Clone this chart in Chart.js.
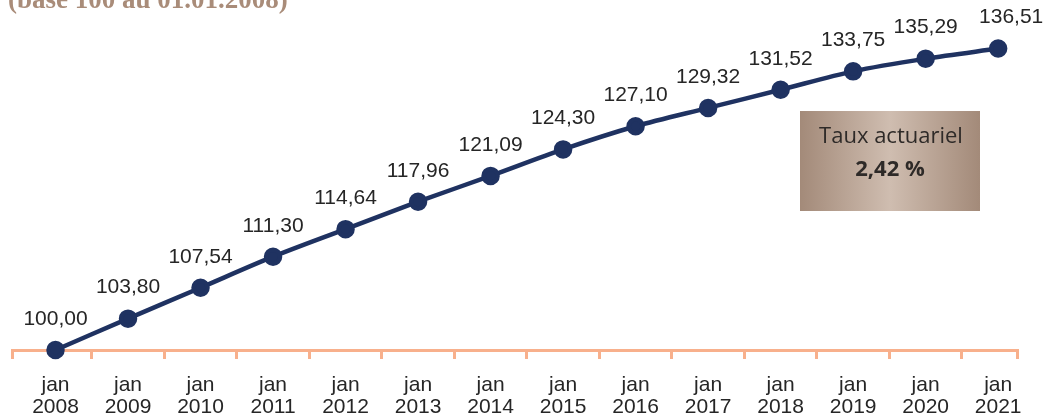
<!DOCTYPE html>
<html>
<head>
<meta charset="utf-8">
<script src="https://cdn.jsdelivr.net/npm/chart.js@4.4.1/dist/chart.umd.min.js"></script>
<style>
  html, body { margin: 0; padding: 0; background: #ffffff; }
  #wrap { position: relative; width: 1045px; height: 417px; }
  canvas { display: block; }
</style>
</head>
<body>
<div id="wrap"><canvas id="c" width="1045" height="417"></canvas></div>
<script>
const years = ['2008','2009','2010','2011','2012','2013','2014','2015','2016','2017','2018','2019','2020','2021'];
const monthLabel = 'jan';
const values = [100.00, 103.80, 107.54, 111.30, 114.64, 117.96, 121.09, 124.30, 127.10, 129.32, 131.52, 133.75, 135.29, 136.51];
const titleText = '(base 100 au 01.01.2008)';
const boxLine1 = 'Taux actuariel';
const boxLine2 = '2,42 %';

const fmt = v => v.toFixed(2).replace('.', ',');

const points = values.map((v, i) => ({ x: i, y: v }));

const overlay = {
  id: 'overlay',
  afterDatasetsDraw(chart) {
    const ctx = chart.ctx;
    const meta = chart.getDatasetMeta(0);
    ctx.save();
    ctx.fillStyle = '#262626';
    ctx.font = '21px "Liberation Sans", Arial, sans-serif';
    ctx.textAlign = 'center';
    ctx.textBaseline = 'middle';
    meta.data.forEach((pt, i) => {
      let x = pt.x;
      if (i === values.length - 1) x += 13;
      ctx.fillText(fmt(values[i]), x, pt.y - 31);
    });
    // title (partially cut at top)
    ctx.fillStyle = '#a98c79';
    ctx.font = 'bold 27px "Liberation Serif", "Times New Roman", serif';
    ctx.textAlign = 'left';
    ctx.textBaseline = 'alphabetic';
    ctx.fillText(titleText, 8, 8);
    // box
    const bx = 800, by = 111, bw = 180, bh = 100;
    const g = ctx.createLinearGradient(bx, 0, bx + bw, 0);
    g.addColorStop(0, '#a38a79');
    g.addColorStop(0.5, '#cfbdb0');
    g.addColorStop(1, '#a38a79');
    ctx.fillStyle = g;
    ctx.fillRect(bx, by, bw, bh);
    ctx.fillStyle = '#2e2a28';
    ctx.textAlign = 'center';
    ctx.textBaseline = 'middle';
    ctx.font = '22px "Open Sans", "Noto Sans", sans-serif';
    ctx.fillText(boxLine1, bx + bw / 2 + 1, by + 26);
    ctx.font = 'bold 22px "Open Sans", "Noto Sans", sans-serif';
    ctx.fillText(boxLine2, bx + bw / 2, by + 59);
    ctx.restore();
  }
};

const orange = '#f8b08c';
const navy = '#1f3261';

new Chart(document.getElementById('c'), {
  type: 'line',
  data: {
    datasets: [{
      data: points,
      borderColor: navy,
      backgroundColor: navy,
      borderWidth: 4.5,
      pointRadius: 7,
      pointHoverRadius: 7,
      pointBackgroundColor: navy,
      pointBorderColor: navy,
      tension: 0.3,
      clip: false,
      xAxisID: 'x',
      yAxisID: 'y'
    }]
  },
  options: {
    responsive: false,
    animation: false,
    events: [],
    layout: { padding: { top: 7, left: 12, right: 28, bottom: 0 } },
    plugins: { legend: { display: false }, tooltip: { enabled: false } },
    scales: {
      x: {
        type: 'linear',
        position: 'bottom',
        min: -0.6,
        max: 13.26,
        afterBuildTicks(scale) {
          const t = [{ value: -0.6 }];
          for (let i = 0; i < years.length - 1; i++) t.push({ value: i + 0.5 });
          t.push({ value: 13.26 });
          scale.ticks = t;
        },
        afterFit(scale) { scale.height = 10; },
        border: { display: true, color: orange, width: 3 },
        grid: { display: true, drawOnChartArea: false, drawTicks: true, tickLength: 9, color: orange, lineWidth: 3 },
        ticks: { display: false }
      },
      xl: {
        type: 'linear',
        position: 'bottom',
        min: -0.6,
        max: 13.26,
        afterBuildTicks(scale) {
          scale.ticks = years.map((y, i) => ({ value: i }));
        },
        afterFit(scale) { scale.height = 57; },
        border: { display: false },
        grid: { display: false, drawTicks: false },
        ticks: {
          autoSkip: false,
          maxRotation: 0,
          padding: 14,
          color: '#262626',
          font: { size: 21, family: '"Liberation Sans", Arial, sans-serif', lineHeight: 1.05 },
          callback: (v) => [monthLabel, years[Math.round(v)]]
        }
      },
      y: {
        display: false,
        min: 100,
        max: 141
      }
    }
  },
  plugins: [overlay]
});
</script>
</body>
</html>
